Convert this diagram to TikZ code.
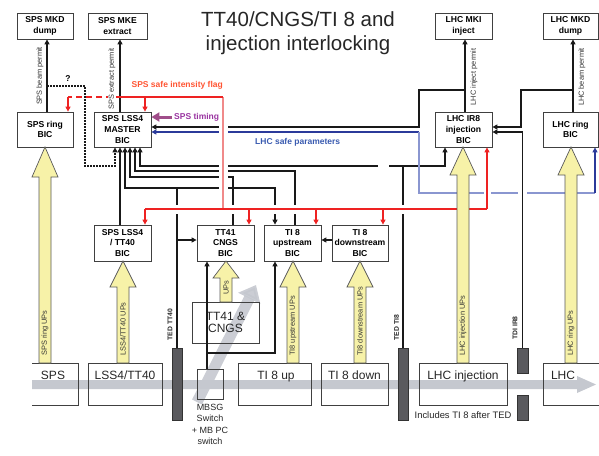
\documentclass[tikz,border=0pt]{standalone}
\usepackage{fontspec}
\setmainfont{Liberation Sans}
\usetikzlibrary{arrows.meta,calc}
\definecolor{ylw}{HTML}{F7F2A8}
\definecolor{redc}{HTML}{EE2222}
\definecolor{redl}{HTML}{F08A8A}
\definecolor{orng}{HTML}{FF5533}
\definecolor{bluec}{HTML}{2B3A9A}
\definecolor{bluel}{HTML}{8A96D0}
\definecolor{bluet}{HTML}{3A5BB0}
\definecolor{purp}{HTML}{A04E8A}
\definecolor{purpt}{HTML}{9933A0}
\definecolor{beam}{HTML}{C5C8CF}
\definecolor{tedc}{HTML}{5A5A5E}
\newcommand{\yarrowblk}[5]{%
  \filldraw[fill=ylw, draw=black!65, line width=0.7pt]
    (#1-6,#2) -- (#1-6,#3+#4) -- (#1-13,#3+#4) -- (#1,#3) -- (#1+13,#3+#4) -- (#1+6,#3+#4) -- (#1+6,#2) -- cycle;
  \node[rotate=90, anchor=west, inner sep=0pt, font=\fontsize{7.4}{8}\selectfont, text=black!80] at (#1,#2-7) {#5};}
\begin{document}
\begin{tikzpicture}[x=1pt,y=-1pt,
  box/.style={draw=black!75, line width=0.8pt, inner sep=0pt, align=center},
  bicf/.style={font=\fontsize{8.6}{10.7}\selectfont\bfseries},
  bigf/.style={font=\fontsize{12}{12}\selectfont, text=black!85},
  tedbar/.style={draw=black!80, fill=tedc, minimum width=10pt, inner sep=0pt, line width=0.6pt},
  conn/.style={line width=1.6pt, black!90},
  arr/.style={-{Triangle[length=5pt,width=5pt]}},
  rl/.style={line width=1.2pt, redc},
  rotl/.style={rotate=90, font=\fontsize{7.4}{8}\selectfont, text=black!80, fill=white, inner sep=0.5pt},
  tedl/.style={rotate=90, font=\fontsize{6.8}{8}\selectfont\bfseries, text=black!85, inner sep=0pt}]
\useasboundingbox (0,0) rectangle (599,455);

% beam line
\fill[beam] (32,380) -- (577,380) -- (577,376) -- (596,384.5) -- (577,393) -- (577,389) -- (32,389) -- cycle;
\draw[beam, line width=11pt, opacity=0.9, -{Triangle[length=15pt,width=24pt]}] (197,402) -- (256,285);

% title
\node[font=\fontsize{20.5}{23}\selectfont, text=black!85, anchor=base] (title1) at (298,27) {TT40/CNGS/TI 8 and};
\node[font=\fontsize{20.5}{23}\selectfont, text=black!85, anchor=base] (title2) at (298,50) {injection interlocking};

% top row
\node[box,bicf,minimum width=56pt,minimum height=26pt] (mkd) at (45,26) {SPS MKD\\dump};
\node[box,bicf,minimum width=59pt,minimum height=26pt] (mke) at (117.5,26) {SPS MKE\\extract};
\node[box,bicf,minimum width=57pt,minimum height=26pt] (mki) at (463.5,26) {LHC MKI\\inject};
\node[box,bicf,minimum width=55pt,minimum height=26pt] (lmkd) at (570.5,26) {LHC MKD\\dump};

% BIC row
\node[box,bicf,minimum width=56pt,minimum height=35pt] (ringbic) at (45,129.5) {SPS ring\\BIC};
\node[box,bicf,minimum width=57pt,minimum height=35pt] (master) at (122.5,129.5) {SPS LSS4\\MASTER\\BIC};
\node[box,bicf,minimum width=57pt,minimum height=35pt] (ir8) at (463.5,129.5) {LHC IR8\\injection\\BIC};
\node[box,bicf,minimum width=55pt,minimum height=35pt] (lring) at (570.5,129.5) {LHC ring\\BIC};

\node[box,bicf,minimum width=57pt,minimum height=36pt] (tt40bic) at (122.5,243) {SPS LSS4\\/ TT40\\BIC};
\node[box,bicf,minimum width=57pt,minimum height=36pt] (cngsbic) at (225.5,243) {TT41\\CNGS\\BIC};
\node[box,bicf,minimum width=57pt,minimum height=36pt] (upbic) at (292.5,243) {TI 8\\upstream\\BIC};
\node[box,bicf,minimum width=56pt,minimum height=36pt] (downbic) at (360,243) {TI 8\\downstream\\BIC};

% bottom row
\draw[black!75, line width=0.8pt] (32,363) -- (78,363) -- (78,405) -- (32,405);
\node[bigf, anchor=base] (spst) at (53,379) {SPS};
\node[box, minimum width=74pt, minimum height=42pt] (lss) at (125,384) {};
\node[bigf, anchor=base] (lsst) at (125,379) {LSS4/TT40};
\node[tedbar, minimum height=72pt] (tedtt40) at (177,384) {};
\node[tedl] (tedtt40l) at (170,324.5) {TED TT40};
\node[box, minimum width=26pt, minimum height=30pt] (mbsg) at (210,384) {};
\node[anchor=north, align=center, inner sep=0pt, font=\fontsize{9}{11.5}\selectfont, text=black!85] (mbsgt) at (210,404) {MBSG\\Switch\\+ MB PC\\switch};
\node[box, bigf, minimum width=67pt, minimum height=41pt] (cngsbox) at (225.5,322.5) {TT41 \&\\CNGS};
\node[box, minimum width=73pt, minimum height=42pt] (upbox) at (274.5,384) {};
\node[bigf, anchor=base] (upt) at (276,379) {TI 8 up};
\node[box, minimum width=67pt, minimum height=42pt] (downbox) at (354.5,384) {};
\node[bigf, anchor=base] (downt) at (354.5,379) {TI 8 down};
\node[tedbar, minimum height=72pt] (tedti8) at (403,384) {};
\node[tedl] (tedti8l) at (396.5,327.5) {TED TI8};
\node[box, minimum width=88pt, minimum height=42pt] (lhcinj) at (463,384) {};
\node[bigf, anchor=base] (lhcinjt) at (463,379) {LHC injection};
\node[anchor=base, font=\fontsize{9.4}{10}\selectfont, text=black!85] (incl) at (463,418) {Includes TI 8 after TED};
\node[tedbar, minimum width=11pt, minimum height=25pt] (tdiA) at (522.5,360.5) {};
\node[tedbar, minimum width=11pt, minimum height=25pt] (tdiB) at (522.5,407.5) {};
\node[tedl] (tdil) at (515,328) {TDI IR8};
\draw[black!75, line width=0.8pt] (600,363) -- (543,363) -- (543,405) -- (600,405);
\node[bigf, anchor=base] (lhct) at (563,379) {LHC};

% permit lines
\draw[conn,arr] ([xshift=2pt]ringbic.north) -- ([xshift=2pt]mkd.south);
\draw[conn,arr] ([xshift=-2.5pt]master.north) -- ([xshift=2.5pt]mke.south);
\draw[conn,arr] ([xshift=1.5pt]ir8.north) -- ([xshift=1.5pt]mki.south);
\draw[conn,arr] ([xshift=2.5pt]lring.north) -- ([xshift=2.5pt]lmkd.south);
\node[rotl] (bpl) at (40,76) {SPS beam permit};
\node[rotl] (epl) at (112,79) {SPS extract permit};
\node[rotl] (ipl) at (474,77) {LHC inject permit};
\node[rotl] (lbpl) at (582,77) {LHC beam permit};

% dotted link
\coordinate (dq) at (47,86);
\coordinate (d1) at (85,86);
\coordinate (d2) at (85,166);
\coordinate (d3) at (115,166);
\draw[line width=1.5pt, black!90, dash pattern=on 1.6pt off 1.4pt, arr] (dq) -- (d1) -- (d2) -- (d3) -- ([xshift=-7.5pt]master.south);
\node[font=\fontsize{8.5}{9}\selectfont\bfseries] (qm) at (68,79) {?};

% bundle to master
\draw[conn,arr] ([xshift=-2.5pt]tt40bic.north) -- ([xshift=-2.5pt]master.south);
\coordinate (jt40) at (177,188);
\coordinate (jt40b) at (177,240);
\coordinate (m125) at (125,188);
\draw[conn] (tedtt40.north) -- (jt40);
\draw[conn,arr] (jt40) -- (m125) -- ([xshift=2.5pt]master.south);
\draw[conn,arr] (jt40) -| ([xshift=-17.5pt]upbic.north);
\draw[conn,arr] (jt40b) -- ([yshift=3pt]cngsbic.west);
\coordinate (c233) at (233,177);
\coordinate (c130) at (130,177);
\draw[conn,arr] ([xshift=7.5pt]cngsbic.north) -- (c233) -- (c130) -- ([xshift=7.5pt]master.south);
\coordinate (u295) at (295,171);
\coordinate (c135) at (135,171);
\draw[conn,arr] ([xshift=2.5pt]upbic.north) -- (u295) -- (c135) -- ([xshift=12.5pt]master.south);
\coordinate (c140) at (140,166);
\coordinate (i445) at (445,166);
\coordinate (jti8) at (403,166);
\draw[conn,{Triangle[length=5pt,width=5pt]}-{Triangle[length=5pt,width=5pt]}] ([xshift=17.5pt]master.south) -- (c140) -- (i445) -- ([xshift=-18.5pt]ir8.south);
\draw[conn] (tedti8.north) -- (jti8);
\draw[white, line width=3pt] (378,166) -- (389,166);

% LHC permits back to master / IR8
\coordinate (k1) at (465,90);
\coordinate (k2) at (419,90);
\coordinate (k3) at (419,127);
\draw[conn,arr] (k1) -- (k2) -- (k3) -- ([yshift=2.5pt]master.east);
\coordinate (q1) at (573,90);
\coordinate (q2) at (521,90);
\coordinate (q3) at (521,127);
\draw[conn,arr] (q1) -- (q2) -- (q3) -- ([yshift=2.5pt]ir8.east);

% MBSG
\coordinate (mb1) at (207,353);
\coordinate (mb2) at (275,353);
\draw[conn,arr] ([xshift=-3pt]mbsg.north) -- ([xshift=-18.5pt]cngsbic.south);
\draw[conn,arr] (mb1) -- (mb2) -- ([xshift=-17.5pt]upbic.south);
\draw[conn,arr] ([yshift=3pt]downbic.west) -- ([yshift=3pt]upbic.east);

% blue safe parameters
\coordinate (b1) at (419,132);
\coordinate (b2) at (419,193);
\coordinate (b3) at (595,193);
\draw[bluec, line width=1.3pt, arr] (b1) -- ([yshift=-2.5pt]master.east);
\draw[bluel, line width=1.3pt] (b1) -- (b2) -- (b3);
\draw[bluec, line width=1.3pt, arr] (b3) -- ([xshift=24.5pt]lring.south);
\node[anchor=base west, inner sep=0pt, font=\fontsize{8.5}{9}\selectfont\bfseries, text=bluet] (safel) at (255,144) {LHC safe parameters};

% purple timing
\node[anchor=base west, inner sep=0pt, font=\fontsize{8.5}{9}\selectfont\bfseries, text=purpt] (tim) at (174,119) {SPS timing};
\draw[purp, line width=3pt, -{Triangle[length=8pt,width=9pt]}] (172,117) -- ([yshift=12.5pt]master.east);

% white gaps under red
\draw[white, line width=9pt] (223,103) -- (223,203);
\draw[white, line width=9pt] (150,209) -- (482,209);
\draw[white, line width=7pt] (487,189) -- (487,197);
\draw[white, line width=9pt] (522,189) -- (522,197);

% red intensity flag
\coordinate (rt) at (223,97);
\coordinate (rb) at (223,209);
\coordinate (r68) at (68,97);
\coordinate (r112) at (112,97);
\coordinate (r145t) at (145,97);
\coordinate (rL) at (145,209);
\coordinate (rR) at (487,209);
\coordinate (r249) at (249,209);
\coordinate (r316) at (316,209);
\coordinate (r383) at (383,209);
\draw[redl, line width=1.2pt] (rt) -- (rb);
\draw[rl] (rt) -- (r112);
\draw[rl, dash pattern=on 6pt off 4pt] (r112) -- (r68);
\draw[rl, arr] (r68) -- ([xshift=23pt]ringbic.north);
\draw[rl, arr] (r145t) -- ([xshift=22.5pt]master.north);
\draw[rl] (rL) -- (rR);
\draw[rl, arr] (rL) -- ([xshift=22.5pt]tt40bic.north);
\draw[rl, arr] (r249) -- ([xshift=23.5pt]cngsbic.north);
\draw[rl, arr] (r316) -- ([xshift=23.5pt]upbic.north);
\draw[rl, arr] (r383) -- ([xshift=23pt]downbic.north);
\draw[rl, arr] (rR) -- ([xshift=23.5pt]ir8.south);
\node[anchor=base east, inner sep=0pt, font=\fontsize{8.5}{9}\selectfont\bfseries, text=orng] (flagl) at (223,87) {SPS safe intensity flag};
\node[rotl] (epl2) at (112,79) {SPS extract permit};

% TDI
\coordinate (t1) at (522.5,132);
\draw[conn,arr] (tdiA.north) -- (t1) -- ([yshift=-2.5pt]ir8.east);

% UPs arrows
\yarrowblk{45}{363}{147}{30}{SPS ring UPs}
\yarrowblk{123}{363}{261}{26}{LSS4/TT40 UPs}
\yarrowblk{226}{302}{261}{17}{UPs}
\yarrowblk{293}{363}{261}{26}{TI8 upstream UPs}
\yarrowblk{360}{363}{261}{26}{TI8 downstream UPs}
\yarrowblk{463}{363}{147}{28}{LHC injection UPs}
\yarrowblk{571}{363}{147}{28}{LHC ring UPs}
\end{tikzpicture}
\end{document}
